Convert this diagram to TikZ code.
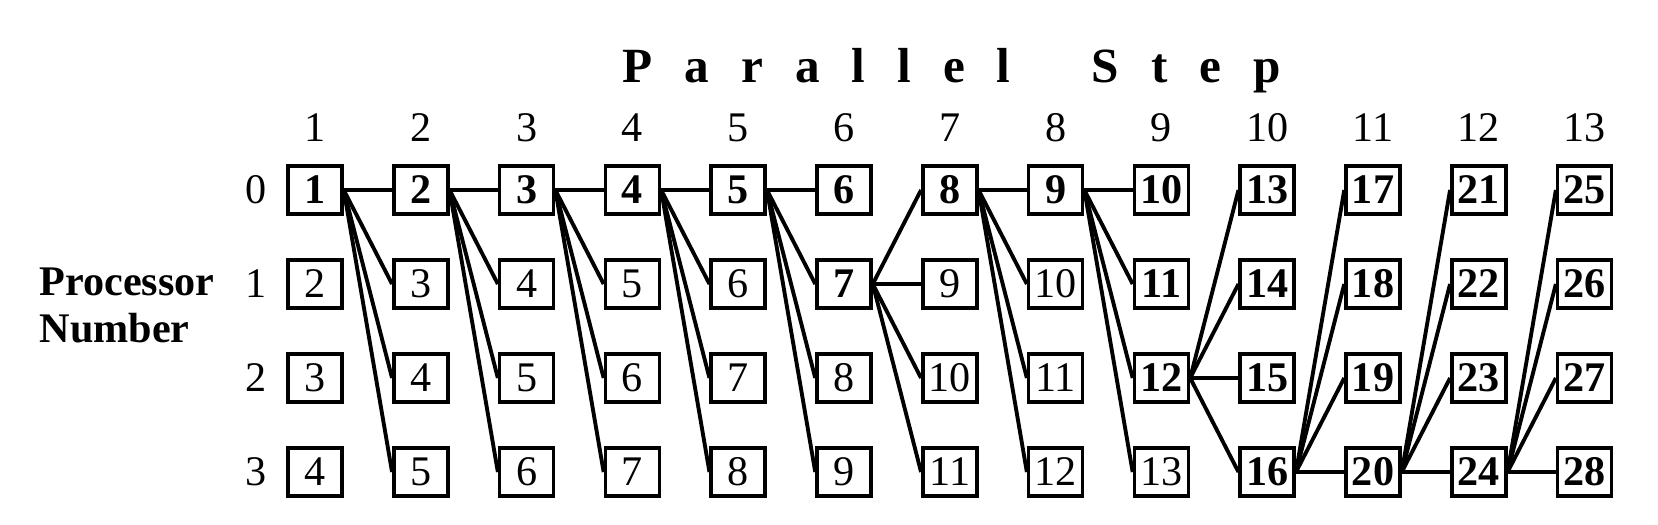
\documentclass[tikz,border=0pt]{standalone}
\usepackage{fontspec}
\setmainfont{Liberation Serif}

\begin{document}
\begin{tikzpicture}[
        cell/.style = {draw, line width = 1pt, minimum width = 0.54cm,
            minimum height = 0.48cm, inner sep = 0pt,
            font = \fontsize{12}{14}\selectfont},
        lbl/.style = {inner sep = 0pt, font = \fontsize{12}{14}\selectfont},
        link/.style = {line width = 1.1pt}
    ]
        \useasboundingbox (0,0) rectangle (16.58,5.24);
        \node [anchor = base west, inner sep = 0pt,
            font = \fontsize{14}{16}\selectfont\bfseries\addfontfeature{LetterSpace=65}]
            (title) at (6.22, 4.42) {Parallel\hspace{0.37cm} Step};
        \node [anchor = west, inner sep = 0pt, align = left,
            font = \fontsize{12}{13.4}\selectfont\bfseries]
            (proc) at (0.39, 2.19) {Processor\\Number};
        \foreach \r/\y in {0/3.34, 1/2.40, 2/1.46, 3/0.52}
            \node [lbl] (p\r) at (2.56, \y) {\r};
        \foreach \c/\pa/\pb/\pc/\pd in {
                1/\textbf{1}/2/3/4, 2/\textbf{2}/3/4/5, 3/\textbf{3}/4/5/6,
                4/\textbf{4}/5/6/7, 5/\textbf{5}/6/7/8,
                6/\textbf{6}/\textbf{7}/8/9, 7/\textbf{8}/9/10/11,
                8/\textbf{9}/10/11/12,
                9/\textbf{10}/\textbf{11}/\textbf{12}/13,
                10/\textbf{13}/\textbf{14}/\textbf{15}/\textbf{16},
                11/\textbf{17}/\textbf{18}/\textbf{19}/\textbf{20},
                12/\textbf{21}/\textbf{22}/\textbf{23}/\textbf{24},
                13/\textbf{25}/\textbf{26}/\textbf{27}/\textbf{28}} {
            \pgfmathsetmacro{\x}{3.15 + (\c - 1)*1.058}
            \node [lbl] (s\c) at (\x, 3.96) {\c};
            \node [cell] (n\c-0) at (\x, 3.34) {\pa};
            \node [cell] (n\c-1) at (\x, 2.40) {\pb};
            \node [cell] (n\c-2) at (\x, 1.46) {\pc};
            \node [cell] (n\c-3) at (\x, 0.52) {\pd};
        }
        % each step feeds all four processors of the next column
        \foreach \s/\t in {1-0/2, 2-0/3, 3-0/4, 4-0/5, 5-0/6, 6-1/7, 7-0/8,
                8-0/9, 9-2/10, 10-3/11, 11-3/12, 12-3/13}
            \foreach \r in {0,...,3}
                \draw [link] (n\s.east) -- (n\t-\r.west);
    \end{tikzpicture}
\end{document}
